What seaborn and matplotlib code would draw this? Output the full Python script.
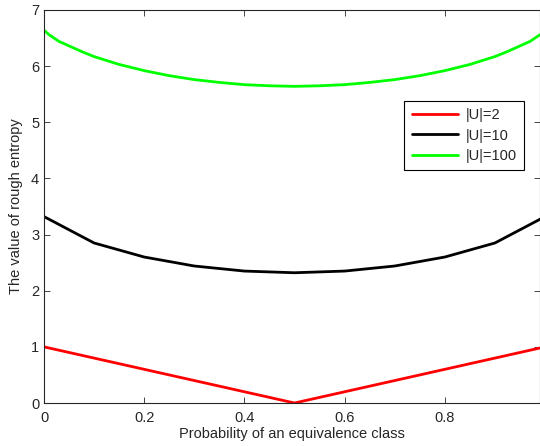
import matplotlib
matplotlib.use('Agg')
import matplotlib.pyplot as plt
import seaborn as sns
import pandas as pd

# |U|=2
red_x = [0.0, 0.5, 1.0]
red_y = [1.0, 0.0, 1.0]

# |U|=10
black_x = [0.0, 0.1, 0.2, 0.3, 0.4, 0.5, 0.6, 0.7, 0.8, 0.9, 1.0]
black_y = [3.32, 2.85, 2.60, 2.44, 2.35, 2.32, 2.35, 2.44, 2.60, 2.85, 3.32]

# |U|=100
green_x = [0.0, 0.005, 0.01, 0.02, 0.03, 0.04, 0.05, 0.075, 0.1, 0.125, 0.15, 0.2, 0.25, 0.3,
           0.35, 0.4, 0.45, 0.5, 0.55, 0.6, 0.65, 0.7, 0.75, 0.8, 0.85, 0.875, 0.9, 0.925,
           0.95, 0.96, 0.97, 0.98, 0.99]
green_y = [6.64, 6.60, 6.56, 6.50, 6.44, 6.40, 6.36, 6.26, 6.17, 6.10, 6.03, 5.92, 5.83, 5.76,
           5.71, 5.67, 5.65, 5.64, 5.65, 5.67, 5.71, 5.76, 5.83, 5.92, 6.03, 6.10, 6.17, 6.26,
           6.36, 6.40, 6.44, 6.50, 6.56]

labels = ["|U|=2", "|U|=10", "|U|=100"]
colors = ["#ff0000", "#000000", "#00ff00"]

df = pd.concat([
    pd.DataFrame({"p": red_x, "entropy": red_y, "series": labels[0]}),
    pd.DataFrame({"p": black_x, "entropy": black_y, "series": labels[1]}),
    pd.DataFrame({"p": green_x, "entropy": green_y, "series": labels[2]}),
])

sns.set_style("ticks")
plt.rcParams['font.family'] = ['Liberation Sans', 'DejaVu Sans']

fig = plt.figure(figsize=(5.4, 4.46), dpi=100)
ax = fig.add_axes([0.0815, 0.0964, 0.9185, 0.8812])

sns.lineplot(data=df, x="p", y="entropy", hue="series", hue_order=labels,
             palette=colors, sort=False, linewidth=2.0, ax=ax)

ax.set_xlim(0, 0.99)
ax.set_ylim(0, 7)
ax.set_xticks([0, 0.2, 0.4, 0.6, 0.8])
ax.set_xticklabels(["0", "0.2", "0.4", "0.6", "0.8"])
ax.set_yticks(range(8))
ax.tick_params(direction="in", top=True, right=True, labelsize=10.5, length=4, width=0.6)
ax.tick_params(axis="x", pad=6)
for s in ax.spines.values():
    s.set_linewidth(0.8)

ax.set_xlabel("Probability of an equivalence class", fontsize=10.5, labelpad=1)
ax.set_ylabel("The value of rough entropy", fontsize=10.5, labelpad=6)

leg = ax.legend(loc="upper right", bbox_to_anchor=(0.968, 0.768), fontsize=10.5,
                frameon=True, fancybox=False, framealpha=1, edgecolor="black",
                handlelength=3.2, handletextpad=0.5, borderpad=0.5, labelspacing=0.42,
                borderaxespad=0)
leg.get_frame().set_linewidth(0.8)

plt.savefig("out.png", dpi=100)
plt.close()
